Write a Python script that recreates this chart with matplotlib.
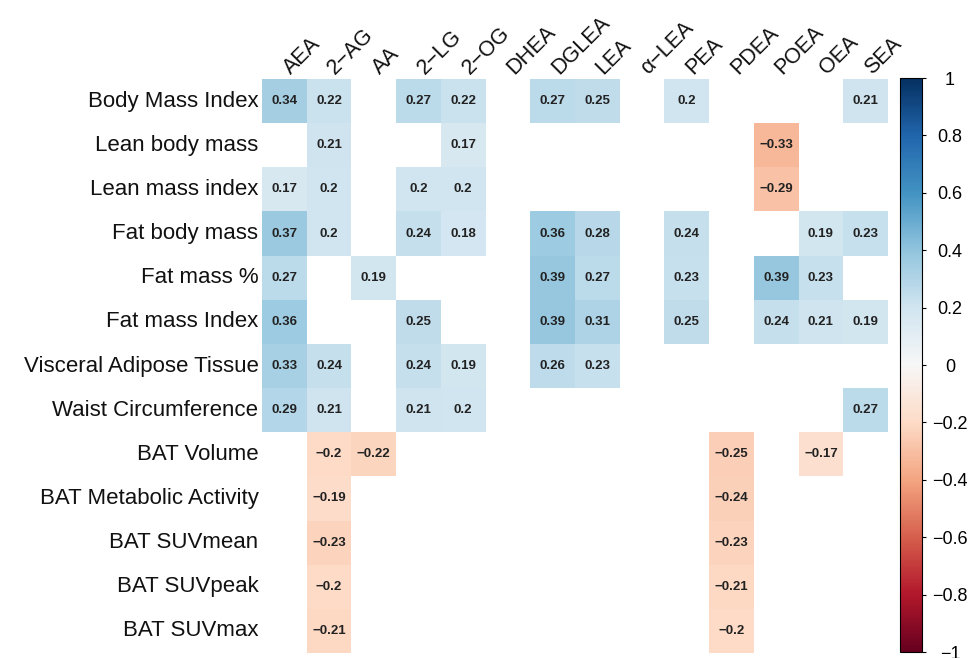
import numpy as np
import matplotlib
matplotlib.use("Agg")
import matplotlib.pyplot as plt
from matplotlib.colors import Normalize

plt.rcParams['font.family'] = ['Liberation Sans', 'DejaVu Sans']

# Row (body composition / BAT) and column (endocannabinoid) labels
rows = ["Body Mass Index", "Lean body mass", "Lean mass index", "Fat body mass",
        "Fat mass %", "Fat mass Index", "Visceral Adipose Tissue",
        "Waist Circumference", "BAT Volume", "BAT Metabolic Activity",
        "BAT SUVmean", "BAT SUVpeak", "BAT SUVmax"]
cols = ["AEA", "2\u2212AG", "AA", "2\u2212LG", "2\u2212OG", "DHEA", "DGLEA", "LEA",
        "\u03b1\u2212LEA", "PEA", "PDEA", "POEA", "OEA", "SEA"]

nan = np.nan
# significant correlations only (blank = not significant)
r_bmi      = [0.34, 0.22, nan, 0.27, 0.22, nan, 0.27, 0.25, nan, 0.2, nan, nan, nan, 0.21]
r_lbm      = [nan, 0.21, nan, nan, 0.17, nan, nan, nan, nan, nan, nan, -0.33, nan, nan]
r_lmi      = [0.17, 0.2, nan, 0.2, 0.2, nan, nan, nan, nan, nan, nan, -0.29, nan, nan]
r_fbm      = [0.37, 0.2, nan, 0.24, 0.18, nan, 0.36, 0.28, nan, 0.24, nan, nan, 0.19, 0.23]
r_fatpct   = [0.27, nan, 0.19, nan, nan, nan, 0.39, 0.27, nan, 0.23, nan, 0.39, 0.23, nan]
r_fmi      = [0.36, nan, nan, 0.25, nan, nan, 0.39, 0.31, nan, 0.25, nan, 0.24, 0.21, 0.19]
r_vat      = [0.33, 0.24, nan, 0.24, 0.19, nan, 0.26, 0.23, nan, nan, nan, nan, nan, nan]
r_waist    = [0.29, 0.21, nan, 0.21, 0.2, nan, nan, nan, nan, nan, nan, nan, nan, 0.27]
r_batvol   = [nan, -0.2, -0.22, nan, nan, nan, nan, nan, nan, nan, -0.25, nan, -0.17, nan]
r_batact   = [nan, -0.19, nan, nan, nan, nan, nan, nan, nan, nan, -0.24, nan, nan, nan]
r_suvmean  = [nan, -0.23, nan, nan, nan, nan, nan, nan, nan, nan, -0.23, nan, nan, nan]
r_suvpeak  = [nan, -0.2, nan, nan, nan, nan, nan, nan, nan, nan, -0.21, nan, nan, nan]
r_suvmax   = [nan, -0.21, nan, nan, nan, nan, nan, nan, nan, nan, -0.2, nan, nan, nan]

data = np.array([r_bmi, r_lbm, r_lmi, r_fbm, r_fatpct, r_fmi, r_vat, r_waist,
                 r_batvol, r_batact, r_suvmean, r_suvpeak, r_suvmax])

fig = plt.figure(figsize=(9.71, 6.58), dpi=100)
ax = fig.add_axes([0.2698, 0.0076, 0.6447, 0.8723])
cax = fig.add_axes([0.927, 0.0091, 0.0227, 0.8723])

cmap = plt.get_cmap("RdBu")
norm = Normalize(vmin=-1, vmax=1)
mesh = ax.pcolormesh(np.ma.masked_invalid(data), cmap=cmap, norm=norm)
ax.set_xlim(0, len(cols))
ax.set_ylim(len(rows), 0)

for i in range(data.shape[0]):
    for j in range(data.shape[1]):
        v = data[i, j]
        if np.isnan(v):
            continue
        txt = f"{v:g}".replace("-", "\u2212")
        ax.text(j + 0.5, i + 0.5, txt, ha="center", va="center",
                fontsize=9.5, fontweight="bold", color="#222222")

ax.set_xticks([])
ax.set_yticks([])
for s in ax.spines.values():
    s.set_visible(False)

# row labels
for i, name in enumerate(rows):
    ax.text(-0.08, i + 0.5, name, ha="right", va="center", fontsize=16,
            color="#111111")

# column labels, rotated 45 degrees
for j, name in enumerate(cols):
    ax.text(j + 0.72, -0.01, name, ha="left", va="bottom", rotation=45,
            rotation_mode="anchor", fontsize=15.5, color="#111111")

ticks = np.round(np.linspace(-1, 1, 11), 1)
cb = fig.colorbar(mesh, cax=cax, ticks=ticks)
cb.ax.set_yticklabels([f"{t:g}".replace("-", "\u2212") for t in ticks])
cb.ax.tick_params(labelsize=13, length=3, width=0.8, pad=17)
for lab in cb.ax.get_yticklabels():
    lab.set_horizontalalignment("center")
cb.outline.set_linewidth(0.8)

fig.savefig("out.png", dpi=100)
